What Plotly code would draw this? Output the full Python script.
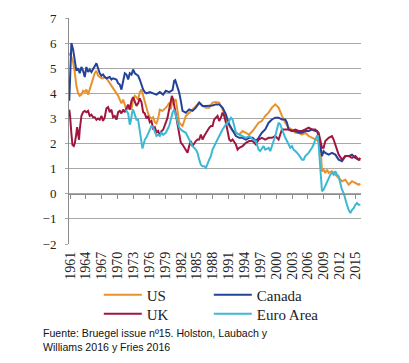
import plotly.graph_objects as go

# ---------------- data ----------------
us_years = [1960.85, 1961.0, 1961.25, 1961.57, 1961.88, 1962.2, 1962.52, 1962.83, 1963.15, 1963.46,
            1963.78, 1964.09, 1964.41, 1964.72, 1965.04, 1965.36, 1965.67, 1965.99, 1966.3, 1966.62,
            1966.94, 1967.25, 1967.57, 1967.88, 1968.2, 1968.51, 1968.83, 1969.14, 1969.46, 1969.78,
            1970.1, 1970.41, 1970.72, 1971.04, 1971.36, 1971.67, 1971.99, 1972.3, 1972.62, 1972.93,
            1973.25, 1973.56, 1973.88, 1974.19, 1974.51, 1974.83, 1975.14, 1975.46, 1975.77, 1976.09,
            1976.4, 1976.72, 1977.04, 1977.35, 1977.67, 1977.98, 1978.49, 1979.12, 1979.44, 1979.75,
            1980.07, 1980.39, 1980.7, 1981.02, 1981.33, 1981.65, 1981.96, 1982.28, 1982.6, 1982.91,
            1983.23, 1983.54, 1983.86, 1984.17, 1984.8, 1985.44, 1986.07, 1986.7, 1987.33, 1987.96,
            1988.59, 1989.22, 1989.85, 1990.49, 1991.12, 1991.75, 1992.38, 1993.01, 1993.64, 1994.27,
            1994.9, 1995.54, 1996.17, 1996.67, 1997.3, 1997.93, 1998.57, 1999.2, 1999.83, 2000.14,
            2000.46, 2001.09, 2001.72, 2002.35, 2002.98, 2003.62, 2004.25, 2004.88, 2005.51, 2006.14,
            2006.77, 2007.4, 2008.03, 2008.35, 2008.67, 2008.98, 2009.3, 2009.62, 2009.93, 2010.56,
            2011.19, 2011.82, 2012.45, 2013.09, 2013.72, 2014.35, 2014.98, 2015.61, 2015.93]
us_values = [5.5, 5.6, 5.45, 5.25, 4.85, 4.3, 4.0, 3.9, 3.95, 4.1,
             4.05, 4.15, 3.95, 4.15, 4.3, 4.55, 4.8, 4.9, 4.7, 4.65,
             4.6, 4.6, 4.65, 4.6, 4.5, 4.45, 4.3, 4.2, 4.1, 4.05,
             3.9, 3.75, 3.6, 3.75, 3.55, 3.35, 3.4, 3.45, 3.35, 3.75,
             3.9, 3.85, 3.75, 4.05, 4.15, 3.9, 3.6, 3.45, 3.2, 3.05,
             3.0, 3.05, 2.85, 2.8, 3.0, 3.35, 3.3, 3.43, 3.5, 3.63,
             3.36, 3.76, 3.7, 3.76, 3.36, 2.83, 2.76, 2.7, 2.9, 3.1,
             3.16, 3.23, 3.3, 3.36, 3.5, 3.63, 3.5, 3.43, 3.43, 3.63,
             3.65, 3.63, 3.36, 3.03, 2.7, 2.5, 2.43, 2.36, 2.5, 2.43,
             2.36, 2.5, 2.7, 2.83, 2.9, 3.1, 3.23, 3.43, 3.56, 3.5,
             3.43, 3.1, 2.83, 2.63, 2.56, 2.43, 2.43, 2.36, 2.43, 2.3,
             2.23, 2.16, 2.1, 2.03, 0.9, 0.96, 0.83, 0.96, 0.83, 0.9,
             0.76, 0.63, 0.5, 0.56, 0.36, 0.5, 0.43, 0.36, 0.4]

canada_years = [1960.85, 1961.25, 1961.57, 1961.88, 1962.2, 1962.52, 1962.83, 1963.15, 1963.46, 1963.78,
                1964.09, 1964.41, 1964.72, 1965.04, 1965.36, 1965.67, 1965.99, 1966.3, 1966.62, 1966.94,
                1967.25, 1967.57, 1967.88, 1968.51, 1968.83, 1969.14, 1969.78, 1970.1, 1970.41, 1970.72,
                1971.04, 1971.36, 1971.67, 1971.99, 1972.3, 1972.62, 1972.93, 1973.25, 1973.56, 1973.88,
                1974.19, 1974.51, 1974.83, 1975.14, 1975.46, 1976.09, 1976.72, 1977.35, 1977.98, 1978.61,
                1979.12, 1979.75, 1980.39, 1980.7, 1980.9, 1981.2, 1981.65, 1981.96, 1982.28, 1982.91,
                1983.54, 1984.17, 1984.8, 1985.44, 1985.75, 1986.07, 1986.7, 1987.33, 1987.96, 1988.59,
                1989.22, 1989.85, 1990.49, 1991.12, 1991.75, 1992.38, 1993.01, 1993.64, 1994.27, 1994.9,
                1995.54, 1996.17, 1996.67, 1997.3, 1997.93, 1998.57, 1999.2, 1999.83, 2000.46, 2001.09,
                2001.72, 2002.04, 2002.35, 2002.98, 2003.62, 2004.25, 2004.88, 2005.51, 2006.14, 2006.77,
                2007.4, 2007.72, 2008.03, 2008.67, 2008.98, 2009.3, 2009.93, 2010.56, 2011.19, 2011.82,
                2012.45, 2013.09, 2013.72, 2014.35, 2014.98, 2015.61, 2015.93]
canada_values = [3.7, 6.0, 5.75, 5.3, 4.9, 5.0, 4.8, 5.05, 4.9, 4.65,
                 5.05, 4.85, 4.95, 4.85, 4.95, 5.1, 5.2, 5.0, 4.8, 4.7,
                 4.75, 4.65, 4.6, 4.65, 4.55, 4.6, 4.55, 4.4, 4.35, 4.15,
                 4.55, 4.8, 4.75, 4.55, 4.8, 4.75, 4.95, 4.8, 4.75, 4.7,
                 4.55, 4.3, 4.15, 4.05, 4.0, 4.05, 4.0, 3.95, 4.05, 3.95,
                 4.1, 4.05, 4.13, 4.5, 4.53, 4.36, 4.03, 3.7, 3.3, 3.23,
                 3.36, 3.3, 3.43, 3.63, 3.56, 3.5, 3.5, 3.5, 3.52, 3.56,
                 3.56, 3.43, 3.16, 2.76, 2.5, 2.3, 2.23, 2.23, 2.16, 2.23,
                 2.23, 2.1, 2.23, 2.43, 2.56, 2.83, 2.96, 3.03, 3.03, 2.96,
                 2.96, 2.83, 2.56, 2.5, 2.5, 2.43, 2.43, 2.5, 2.5, 2.56,
                 2.5, 2.5, 2.3, 1.5, 1.7, 1.63, 1.56, 1.63, 1.56, 1.36,
                 1.3, 1.5, 1.5, 1.56, 1.43, 1.36, 1.36]

uk_years = [1960.85, 1961.0, 1961.25, 1961.45, 1961.7, 1961.88, 1962.2, 1962.33, 1962.52, 1962.7,
            1962.83, 1963.15, 1963.46, 1963.78, 1964.09, 1964.41, 1964.72, 1965.04, 1965.36, 1965.67,
            1965.99, 1966.3, 1966.62, 1966.94, 1967.25, 1967.57, 1967.88, 1968.2, 1968.51, 1968.83,
            1969.14, 1969.46, 1969.78, 1970.1, 1970.41, 1970.72, 1971.04, 1971.36, 1971.67, 1971.99,
            1972.3, 1972.62, 1972.93, 1973.25, 1973.56, 1973.88, 1974.19, 1974.51, 1974.83, 1975.14,
            1975.46, 1975.77, 1976.09, 1976.4, 1976.72, 1977.04, 1977.35, 1977.67, 1977.98, 1978.3,
            1978.61, 1979.12, 1979.44, 1979.75, 1980.07, 1980.26, 1980.5, 1980.7, 1981.02, 1981.33,
            1981.65, 1981.96, 1982.28, 1982.6, 1982.91, 1983.23, 1983.54, 1983.86, 1984.17, 1984.49,
            1984.8, 1985.12, 1985.44, 1985.75, 1986.07, 1986.38, 1986.7, 1987.01, 1987.33, 1987.65,
            1987.96, 1988.28, 1988.59, 1988.91, 1989.22, 1989.54, 1989.85, 1990.17, 1990.49, 1990.8,
            1991.12, 1991.43, 1991.75, 1992.38, 1992.7, 1993.01, 1993.64, 1994.27, 1994.9, 1995.54,
            1996.17, 1996.67, 1997.3, 1997.93, 1998.57, 1999.2, 1999.83, 2000.46, 2001.09, 2001.72,
            2002.35, 2002.98, 2003.62, 2004.25, 2004.88, 2005.51, 2006.14, 2006.77, 2007.4, 2008.03,
            2008.35, 2008.67, 2008.98, 2009.3, 2009.93, 2010.56, 2010.87, 2011.19, 2011.82, 2012.45,
            2013.09, 2013.72, 2014.35, 2014.98, 2015.61, 2015.93]
uk_values = [3.35, 3.1, 2.4, 1.95, 1.9, 2.0, 2.4, 2.65, 2.4, 2.15,
             2.55, 3.1, 3.25, 3.3, 3.25, 3.3, 3.1, 3.15, 3.05, 3.05,
             2.95, 3.0, 2.95, 3.1, 2.9, 3.05, 3.4, 3.45, 3.25, 3.35,
             3.05, 3.1, 2.95, 3.25, 3.3, 3.2, 3.35, 3.25, 3.4, 3.55,
             3.35, 3.7, 3.85, 3.7, 3.5, 3.6, 3.8, 3.65, 3.25, 3.2,
             3.0, 3.1, 2.85, 2.9, 2.6, 2.65, 2.45, 2.5, 2.3, 2.5,
             2.55, 2.83, 3.03, 3.36, 3.76, 3.9, 3.76, 3.5, 3.16, 2.7,
             2.3, 2.03, 1.96, 1.83, 1.76, 1.63, 1.9, 2.1, 1.9, 2.03,
             2.1, 2.16, 2.16, 2.36, 2.16, 2.3, 2.43, 2.5, 2.63, 2.7,
             2.7, 2.96, 3.03, 3.1, 2.9, 3.03, 3.23, 3.1, 2.83, 2.5,
             2.16, 2.1, 2.16, 1.96, 1.76, 1.83, 1.9, 2.03, 2.1, 2.1,
             1.96, 2.16, 2.23, 2.16, 2.23, 2.23, 2.3, 2.16, 2.56, 2.56,
             2.56, 2.5, 2.56, 2.5, 2.5, 2.56, 2.63, 2.56, 2.56, 2.43,
             2.16, 1.83, 1.83, 2.1, 2.23, 2.3, 2.16, 1.96, 1.56, 1.36,
             1.5, 1.5, 1.43, 1.5, 1.36, 1.43]

euro_years = [1971.54, 1971.99, 1972.3, 1972.5, 1972.75, 1972.93, 1973.25, 1973.56, 1973.88, 1974.19,
              1974.51, 1974.7, 1974.96, 1975.14, 1975.46, 1975.77, 1976.09, 1976.4, 1976.72, 1977.04,
              1977.35, 1977.67, 1977.98, 1978.3, 1978.61, 1979.12, 1979.75, 1980.07, 1980.39, 1980.7,
              1981.02, 1981.33, 1981.65, 1982.28, 1982.91, 1983.54, 1984.17, 1984.8, 1985.12, 1985.44,
              1985.75, 1986.07, 1986.38, 1986.7, 1987.01, 1987.33, 1987.65, 1987.96, 1988.59, 1989.22,
              1989.85, 1990.49, 1991.12, 1991.43, 1991.75, 1992.07, 1992.38, 1993.01, 1993.64, 1994.27,
              1994.9, 1995.54, 1996.17, 1996.67, 1996.99, 1997.3, 1997.62, 1997.93, 1998.57, 1998.88,
              1999.2, 1999.51, 1999.83, 2000.14, 2000.46, 2000.77, 2001.09, 2001.41, 2001.72, 2002.04,
              2002.35, 2002.67, 2002.98, 2003.3, 2003.62, 2004.25, 2004.88, 2005.2, 2005.51, 2006.14,
              2006.77, 2007.09, 2007.4, 2007.72, 2007.91, 2008.16, 2008.41, 2008.67, 2008.98, 2009.3,
              2009.62, 2009.93, 2010.25, 2010.56, 2010.87, 2011.19, 2011.51, 2011.82, 2012.14, 2012.45,
              2012.77, 2013.09, 2013.4, 2013.72, 2014.04, 2014.35, 2014.67, 2014.98, 2015.3, 2015.61,
              2015.93]
euro_values = [3.35, 3.2, 2.75, 2.9, 3.25, 3.35, 3.15, 2.95, 2.95, 2.55,
               2.15, 1.8, 2.0, 2.15, 2.25, 2.4, 2.55, 2.7, 2.65, 2.45,
               2.3, 2.35, 2.3, 2.45, 2.35, 2.43, 2.7, 2.96, 3.23, 3.36,
               3.1, 2.83, 2.63, 2.5, 2.43, 2.16, 1.9, 1.76, 1.63, 1.36,
               1.16, 1.1, 1.1, 1.03, 1.23, 1.36, 1.5, 1.76, 2.03, 2.3,
               2.56, 2.76, 2.9, 3.03, 2.96, 2.7, 2.43, 2.36, 2.3, 2.23,
               2.3, 2.16, 2.1, 1.76, 1.7, 1.83, 1.9, 1.76, 1.83, 1.7,
               1.9, 2.03, 2.3, 2.56, 2.83, 2.76, 2.56, 2.43, 2.23, 2.1,
               1.96, 1.83, 1.9, 1.76, 1.7, 1.56, 1.36, 1.36, 1.5, 1.63,
               1.83, 1.96, 2.16, 2.3, 2.3, 1.63, 0.83, 0.1, 0.16, 0.3,
               0.5, 0.63, 0.76, 0.83, 0.76, 0.9, 0.76, 0.7, 0.43, 0.16,
               0.03, -0.24, -0.44, -0.64, -0.77, -0.64, -0.57, -0.44, -0.37, -0.44,
               -0.44]

tick_years = list(range(1961, 2016, 3))
tick_labels = [str(y) for y in tick_years]

series_names = ["US", "Canada", "UK", "Euro Area"]
series_colors = ["#E8922E", "#24429A", "#A0163F", "#3CB8D4"]
series_legend = ["legend", "legend", "legend2", "legend2"]

# ---------------- figure ----------------
serif = "Liberation Serif, Times New Roman, serif"
sans = "Liberation Sans, Arial, sans-serif"
x_range = [1960.8, 2016.05]

fig = go.Figure()
series = [(us_years, us_values), (canada_years, canada_values),
          (uk_years, uk_values), (euro_years, euro_values)]
for (xs, ys), name, col, lg in zip(series, series_names, series_colors, series_legend):
    fig.add_trace(go.Scatter(x=xs, y=ys, name=name, mode="lines", legend=lg,
                             line=dict(color=col, width=2)))

# invisible trace bound to the zero-line axis so it gets drawn
fig.add_trace(go.Scatter(x=[x_range[0]], y=[None], xaxis="x2", yaxis="y",
                         showlegend=False, hoverinfo="skip", mode="lines"))

legend_common = dict(orientation="h", xanchor="left", yanchor="top",
                     entrywidth=57, entrywidthmode="pixels", itemwidth=38,
                     font=dict(size=15, family=serif, color="#222222"),
                     itemclick=False, bgcolor="rgba(0,0,0,0)")

fig.update_layout(
    width=409, height=363,
    margin=dict(l=61, r=56, t=10, b=127, autoexpand=False),
    plot_bgcolor="white", paper_bgcolor="white",
    font=dict(family=serif, color="#222222"),
    xaxis=dict(range=x_range, tickvals=tick_years, ticktext=tick_labels,
               tickangle=-90, showgrid=False, zeroline=False, showline=False,
               ticks="", tickfont=dict(size=14, family=serif, color="#222222"),
               ticklabelstandoff=4, automargin=False),
    xaxis2=dict(range=x_range, overlaying="x", anchor="free", position=2 / 9,
                showline=True, linecolor="#8c8c8c", linewidth=1,
                ticks="outside", ticklen=4, tickcolor="#8c8c8c",
                tickvals=tick_years, showticklabels=False, showgrid=False,
                zeroline=False),
    yaxis=dict(range=[-2, 7], dtick=1, showgrid=True, gridcolor="#a8a8a8",
               gridwidth=1, zeroline=False, showline=True, linecolor="#8c8c8c",
               ticks="outside", ticklen=3, tickcolor="#a8a8a8",
               tickfont=dict(size=13, family=serif, color="#222222"),
               ticklabelstandoff=6, automargin=False),
    legend=dict(x=0.102, y=-0.153, **legend_common),
    legend2=dict(x=0.102, y=-0.237, **legend_common),
    showlegend=True,
)

fig.add_annotation(
    text="Fuente: Bruegel issue nº15. Holston, Laubach y<br>Williams 2016 y Fries 2016",
    xref="paper", yref="paper", x=-0.096, y=-0.36, xanchor="left", yanchor="top",
    align="left", showarrow=False, font=dict(size=10.6, family=sans, color="#111111"),
)

fig.write_html("out.html")
